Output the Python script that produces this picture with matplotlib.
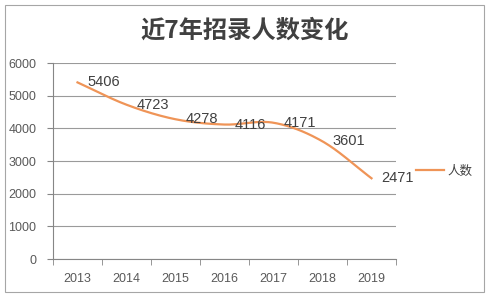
import numpy as np
import matplotlib
matplotlib.use('Agg')
import matplotlib.pyplot as plt
from matplotlib.patches import Rectangle

years = ['2013', '2014', '2015', '2016', '2017', '2018', '2019']
counts = [5406, 4723, 4278, 4116, 4171, 3601, 2471]
series_name = '人数'
title = '近7年招录人数变化'

plt.rcParams['font.family'] = ['Liberation Sans', 'Noto Sans CJK SC', 'DejaVu Sans']


def smooth(xs, ys, n=30):
    # catmull-rom curve through the points, like excel's smoothed line
    xs = np.asarray(xs, float)
    ys = np.asarray(ys, float)
    px = np.concatenate([[2 * xs[0] - xs[1]], xs, [2 * xs[-1] - xs[-2]]])
    py = np.concatenate([[2 * ys[0] - ys[1]], ys, [2 * ys[-1] - ys[-2]]])
    ox, oy = [], []
    t = np.linspace(0, 1, n)
    for i in range(1, len(px) - 2):
        for p, out in ((px, ox), (py, oy)):
            p0, p1, p2, p3 = p[i - 1], p[i], p[i + 1], p[i + 2]
            out.extend(0.5 * (2 * p1 + (-p0 + p2) * t
                              + (2 * p0 - 5 * p1 + 4 * p2 - p3) * t ** 2
                              + (-p0 + 3 * p1 - 3 * p2 + p3) * t ** 3))
    return np.array(ox), np.array(oy)


fig = plt.figure(figsize=(4.94, 2.97), dpi=100)
fig.patches.append(Rectangle((5 / 494, 1 - 292 / 297), 479 / 494, 287 / 297,
                             transform=fig.transFigure, fill=False,
                             edgecolor='#a6a6a6', linewidth=0.8))

ax = fig.add_axes([53 / 494, 1 - 259 / 297, 343 / 494, 196 / 297])
x = np.arange(len(years))
sx, sy = smooth(x, counts)
line, = ax.plot(sx, sy, color='#EF9457', linewidth=1.6, label=series_name)

for xi, v in zip(x, counts):
    ax.annotate(str(v), (xi, v), xytext=(7, 0), textcoords='offset points',
                ha='left', va='center', fontsize=10.5, color='#404040')

ax.set_xlim(-0.5, len(years) - 0.5)
ax.set_ylim(0, 6000)
ax.set_yticks(range(0, 6001, 1000))
ax.set_xticks(x)
ax.set_xticklabels(years)
ax.set_xticks(np.arange(-0.5, len(years)), minor=True)
ax.tick_params(axis='x', which='major', length=0, pad=10, labelsize=9, colors='#595959')
ax.tick_params(axis='x', which='minor', length=4, direction='out', color='#868686')
ax.tick_params(axis='y', length=4, direction='out', pad=8, labelsize=9,
               colors='#595959', color='#868686')
ax.grid(axis='y', color='#9a9a9a', linewidth=0.8)
ax.set_axisbelow(True)
for s in ['top', 'right']:
    ax.spines[s].set_visible(False)
for s in ['left', 'bottom']:
    ax.spines[s].set_color('#868686')
    ax.spines[s].set_linewidth(0.8)

fig.text(245 / 494, 1 - 31 / 297, title, ha='center', va='center', fontsize=17.5,
         fontweight='bold', color='#404040', family=['Noto Sans CJK SC', 'DejaVu Sans'])

fig.legend(handles=[line], loc='center left', bbox_to_anchor=(416 / 494, 1 - 171 / 297),
           frameon=False, handlelength=2.2, handletextpad=0.3, borderpad=0,
           borderaxespad=0, prop={'family': ['Noto Sans CJK SC'], 'size': 9},
           labelcolor='#404040')

fig.savefig('out.png', dpi=100, facecolor='white')
